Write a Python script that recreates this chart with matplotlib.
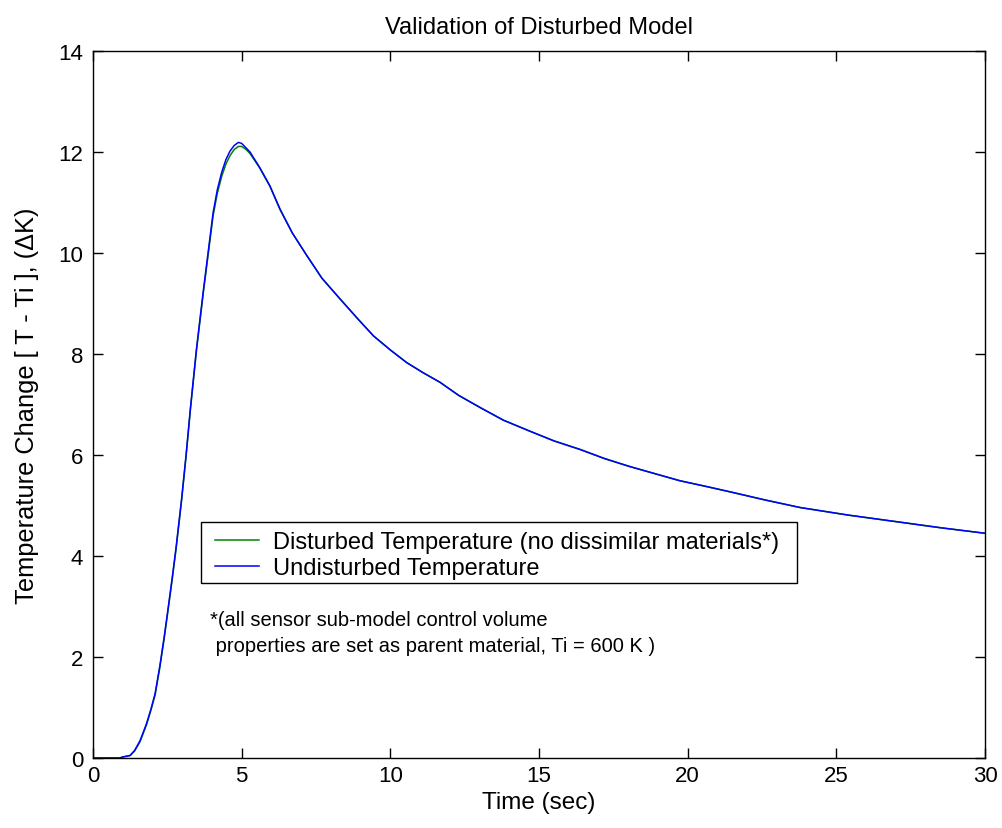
import numpy as np
import matplotlib
matplotlib.use("Agg")
import matplotlib.pyplot as plt
from matplotlib import font_manager
from matplotlib.patches import Rectangle

time_s = [0.0, 0.9, 1.0, 1.25, 1.4, 1.58, 1.8, 1.95, 2.09, 2.25, 2.39, 2.5, 2.66, 2.79,
          2.98, 3.13, 3.28, 3.48, 3.71, 3.88, 4.04, 4.18, 4.33, 4.47, 4.61, 4.75, 4.89,
          5.0, 5.15, 5.28, 5.6, 5.95, 6.29, 6.7, 7.19, 7.7, 8.31, 8.9, 9.43, 10.0,
          10.55, 11.1, 11.67, 12.3, 13.02, 13.8, 14.7, 15.5, 16.38, 17.2, 18.06, 18.9,
          19.74, 20.6, 21.43, 22.6, 23.78, 25.4, 27.14, 28.5, 30.0]
undisturbed = [0.0, 0.0, 0.02, 0.05, 0.15, 0.34, 0.68, 0.97, 1.28, 1.83, 2.38, 2.85,
               3.55, 4.15, 5.13, 6.0, 6.95, 8.10, 9.25, 10.05, 10.8, 11.25, 11.6,
               11.85, 12.02, 12.13, 12.19, 12.17, 12.08, 12.0, 11.7, 11.33, 10.87,
               10.4, 9.95, 9.5, 9.09, 8.7, 8.36, 8.08, 7.83, 7.63, 7.44, 7.18, 6.94,
               6.69, 6.47, 6.28, 6.11, 5.93, 5.77, 5.63, 5.49, 5.38, 5.27, 5.11, 4.96,
               4.81, 4.67, 4.56, 4.45]
disturbed = [0.0, 0.0, 0.02, 0.05, 0.14, 0.32, 0.66, 0.95, 1.25, 1.80, 2.35, 2.82,
             3.52, 4.12, 5.10, 5.97, 6.92, 8.07, 9.21, 10.0, 10.74, 11.18, 11.52,
             11.76, 11.93, 12.05, 12.11, 12.11, 12.05, 11.97, 11.69, 11.32, 10.86,
             10.4, 9.95, 9.5, 9.09, 8.7, 8.36, 8.08, 7.83, 7.63, 7.44, 7.18, 6.94,
             6.69, 6.47, 6.28, 6.11, 5.93, 5.77, 5.63, 5.49, 5.38, 5.27, 5.11, 4.96,
             4.81, 4.67, 4.56, 4.45]
x_ticks = [0, 5, 10, 15, 20, 25, 30]
y_ticks = [0, 2, 4, 6, 8, 10, 12, 14]

plt.rcParams['font.family'] = ['Liberation Sans', 'DejaVu Sans']

# title font: narrow if available
try:
    font_manager.findfont(font_manager.FontProperties(family='Liberation Sans Narrow'),
                          fallback_to_default=False)
    title_family, title_size = 'Liberation Sans Narrow', 20.8
except Exception:
    title_family, title_size = 'Liberation Sans', 17

W, H = 1002, 829
L, R, T, B = 93, 985, 52, 759
fig = plt.figure(figsize=(W/100, H/100), dpi=100)
ax = fig.add_axes([L/W, 1 - B/H, (R-L)/W, (B-T)/H])

ax.plot(time_s, disturbed, color='#008000', lw=1.1, label='Disturbed Temperature (no dissimilar materials*)')
ax.plot(time_s, undisturbed, color='#0000ff', lw=1.1, label='Undisturbed Temperature')

ax.set_xlim(0, 30)
ax.set_ylim(0, 14)
ax.set_xticks(x_ticks)
ax.set_yticks(y_ticks)
ax.tick_params(direction='in', length=7, width=1, top=True, right=True, labelsize=16)
ax.tick_params(axis='x', pad=5)
ax.tick_params(axis='y', pad=7)
for s in ax.spines.values():
    s.set_linewidth(1.0)

ax.set_title('Validation of Disturbed Model', fontsize=title_size,
             family=title_family, pad=13)
ax.set_xlabel('Time (sec)', fontsize=17.5, labelpad=4)
ax.set_ylabel('Temperature Change [ T - Ti ], (ΔK)', fontsize=18.3, labelpad=14)

# legend box (frame drawn separately for asymmetric padding)
def ax_frac(px, py):
    return (px - L) / (R - L), (B - py) / (B - T)

fx0, fy0 = ax_frac(201, 584)
fx1, fy1 = ax_frac(797, 523)
ax.add_patch(Rectangle((fx0, fy0), fx1 - fx0, fy1 - fy0, transform=ax.transAxes,
                       facecolor='white', edgecolor='black', lw=1.0, zorder=4))
lx, ly = ax_frac(215, 580)
leg = ax.legend(loc='lower left', bbox_to_anchor=(lx, ly),
                fontsize=17.0, frameon=False, borderpad=0, labelspacing=0.16,
                handlelength=1.85, handletextpad=0.62, borderaxespad=0)
leg.set_zorder(5)

ax.text(3.95, 2.49, '*(all sensor sub-model control volume\n properties are set as parent material, Ti = 600 K )',
        fontsize=14.5, va='center', ha='left', linespacing=1.5)

fig.savefig('out.png', dpi=100)
